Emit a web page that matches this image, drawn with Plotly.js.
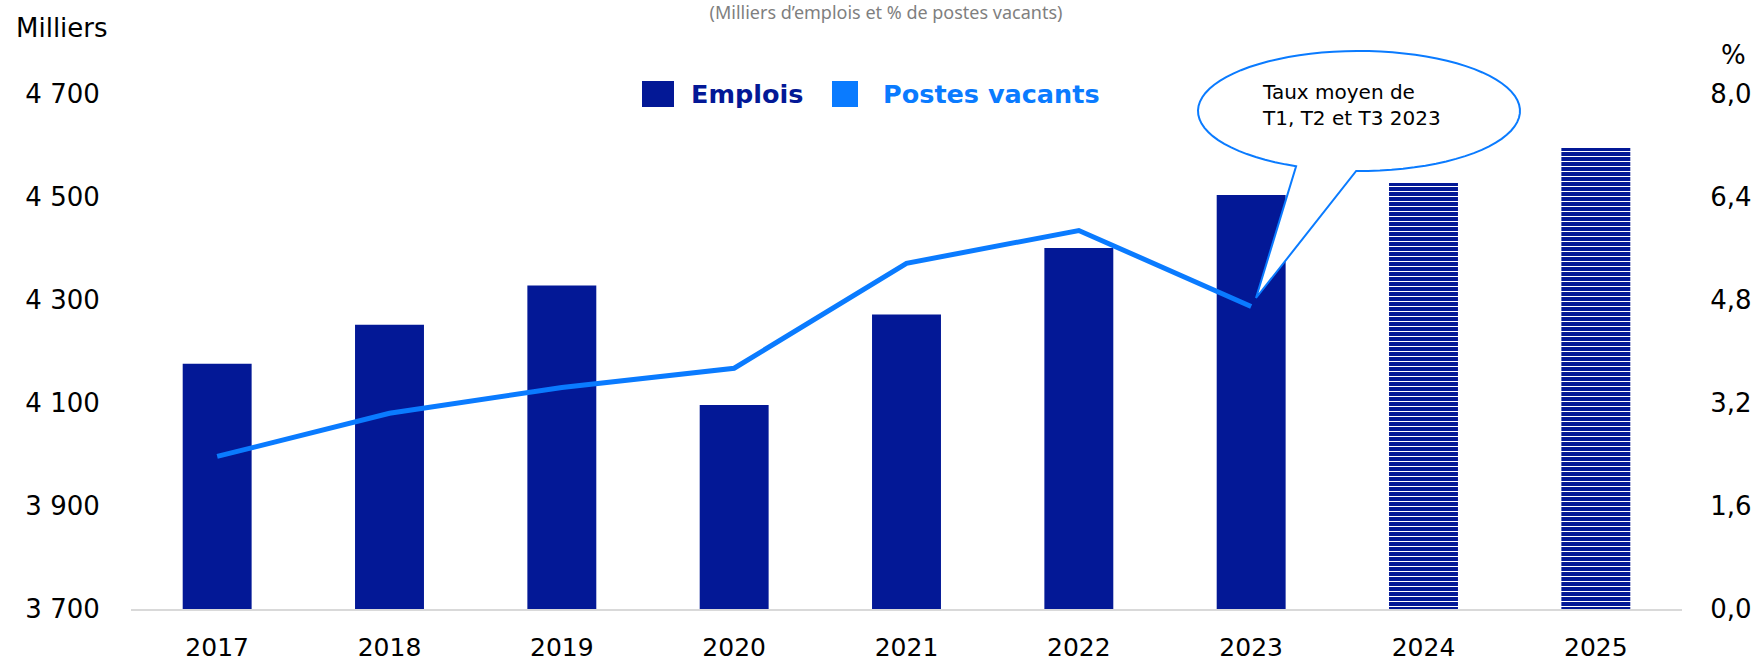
<!DOCTYPE html>
<html>
<head>
<meta charset="utf-8">
<script src="https://cdn.plot.ly/plotly-3.0.1.min.js"></script>
<style>html,body{margin:0;padding:0;background:#fff;}#chart{width:1762px;height:665px;}</style>
</head>
<body>
<div id="chart"></div>
<script>
// ---- Data ----
const years = ['2017','2018','2019','2020','2021','2022','2023','2024','2025'];
const emplois = [4176, 4252, 4328, 4096, 4272, 4401, 4504, 4527, 4595];
const postesVacants = [2.37, 3.04, 3.44, 3.74, 5.37, 5.88, 4.70, null, null];
const barPatterns = ['', '', '', '', '', '', '', '-', '-'];
const leftTicks = [3700, 3900, 4100, 4300, 4500, 4700];
const rightTicks = [0, 1.6, 3.2, 4.8, 6.4, 8.0];

// ---- Style ----
const NAVY = '#031896';
const BLUE = '#0a7bff';
const W = 1762, H = 665;
const M = {l: 131, r: 80, t: 94, b: 56};
const PW = W - M.l - M.r, PH = H - M.t - M.b;
const px = x => (x - M.l) / PW;
const py = y => (H - M.b - y) / PH;
const FONT = 'DejaVu Sans';

// callout bubble path (decoration)
function bubblePath() {
  const cx = 1359, cy = 111, rx = 161, ry = 60;
  const a0 = 113 * Math.PI / 180, a1 = (360 + 91) * Math.PI / 180;
  let d = '';
  const n = 80;
  for (let i = 0; i <= n; i++) {
    const a = a0 + (a1 - a0) * i / n;
    const x = cx + rx * Math.cos(a), y = cy + ry * Math.sin(a);
    d += (i === 0 ? 'M' : 'L') + px(x).toFixed(5) + ',' + py(y).toFixed(5);
  }
  d += 'L' + px(1256).toFixed(5) + ',' + py(298).toFixed(5) + 'Z';
  return d;
}

const traces = [
  {
    type: 'bar', name: 'Emplois', x: years, y: emplois,
    marker: {color: NAVY, line: {width: 0},
      pattern: {shape: barPatterns, fgcolor: '#ffffff', bgcolor: NAVY, size: 5, solidity: 0.2, fillmode: 'replace'}},
    hoverinfo: 'x+y'
  },
  {
    type: 'scatter', mode: 'lines', name: 'Postes vacants', x: years, y: postesVacants,
    yaxis: 'y2', line: {color: BLUE, width: 5}, connectgaps: false
  }
];

const layout = {
  width: W, height: H,
  margin: M,
  paper_bgcolor: '#fff', plot_bgcolor: '#fff',
  separators: ', ',
  showlegend: false,
  bargap: 0.6,
  font: {family: FONT, color: '#000'},
  title: {
    text: '(Milliers d\u2019emplois et % de postes vacants)',
    font: {family: 'Noto Sans', size: 18, color: '#7f7f7f'},
    xref: 'container', yref: 'container', x: 886 / W, xanchor: 'center', y: 1 - 13 / H, yanchor: 'middle'
  },
  xaxis: {
    type: 'category', showgrid: false, zeroline: false,
    showline: true, linecolor: '#d9d9d9', linewidth: 1.5,
    ticks: 'outside', ticklen: 15, tickcolor: 'rgba(0,0,0,0)',
    tickfont: {family: FONT, size: 25, color: '#000'}
  },
  yaxis: {
    range: [3700, 4700], tickvals: leftTicks, tickformat: ',d',
    showgrid: false, zeroline: false, showline: false,
    ticks: 'outside', ticklen: 25, tickcolor: 'rgba(0,0,0,0)',
    tickfont: {family: FONT, size: 26, color: '#000'}
  },
  yaxis2: {
    overlaying: 'y', side: 'right', range: [0, 8], tickvals: rightTicks, tickformat: '.1f',
    showgrid: false, zeroline: false, showline: false,
    ticks: 'outside', ticklen: 22, tickcolor: 'rgba(0,0,0,0)',
    tickfont: {family: FONT, size: 26, color: '#000'}
  },
  shapes: [
    {type: 'rect', xref: 'paper', yref: 'paper', x0: px(642), x1: px(674), y0: py(107), y1: py(81),
      fillcolor: NAVY, line: {width: 0}},
    {type: 'rect', xref: 'paper', yref: 'paper', x0: px(832), x1: px(858), y0: py(107), y1: py(81),
      fillcolor: BLUE, line: {width: 0}},
    {type: 'path', xref: 'paper', yref: 'paper', path: bubblePath(),
      fillcolor: '#ffffff', line: {color: BLUE, width: 2}, layer: 'above'}
  ],
  annotations: [
    {xref: 'paper', yref: 'paper', x: px(689), y: py(94), xanchor: 'left', yanchor: 'middle', showarrow: false,
      text: '<b>Emplois</b>', font: {family: FONT, size: 25.5, color: NAVY}},
    {xref: 'paper', yref: 'paper', x: px(881), y: py(94), xanchor: 'left', yanchor: 'middle', showarrow: false,
      text: '<b>Postes vacants</b>', font: {family: FONT, size: 25.5, color: BLUE}},
    {xref: 'paper', yref: 'paper', x: px(14), y: py(28), xanchor: 'left', yanchor: 'middle', showarrow: false,
      text: 'Milliers', font: {family: FONT, size: 26, color: '#000'}},
    {xref: 'paper', yref: 'paper', x: px(1733), y: py(55), xanchor: 'center', yanchor: 'middle', showarrow: false,
      text: '%', font: {family: FONT, size: 26, color: '#000'}},
    {xref: 'paper', yref: 'paper', x: px(1260), y: py(105), xanchor: 'left', yanchor: 'middle', showarrow: false,
      align: 'left', text: 'Taux moyen de<br>T1, T2 et T3 2023', font: {family: FONT, size: 20, color: '#000'}}
  ]
};

Plotly.newPlot('chart', traces, layout, {displayModeBar: false, staticPlot: true});
</script>
</body>
</html>
